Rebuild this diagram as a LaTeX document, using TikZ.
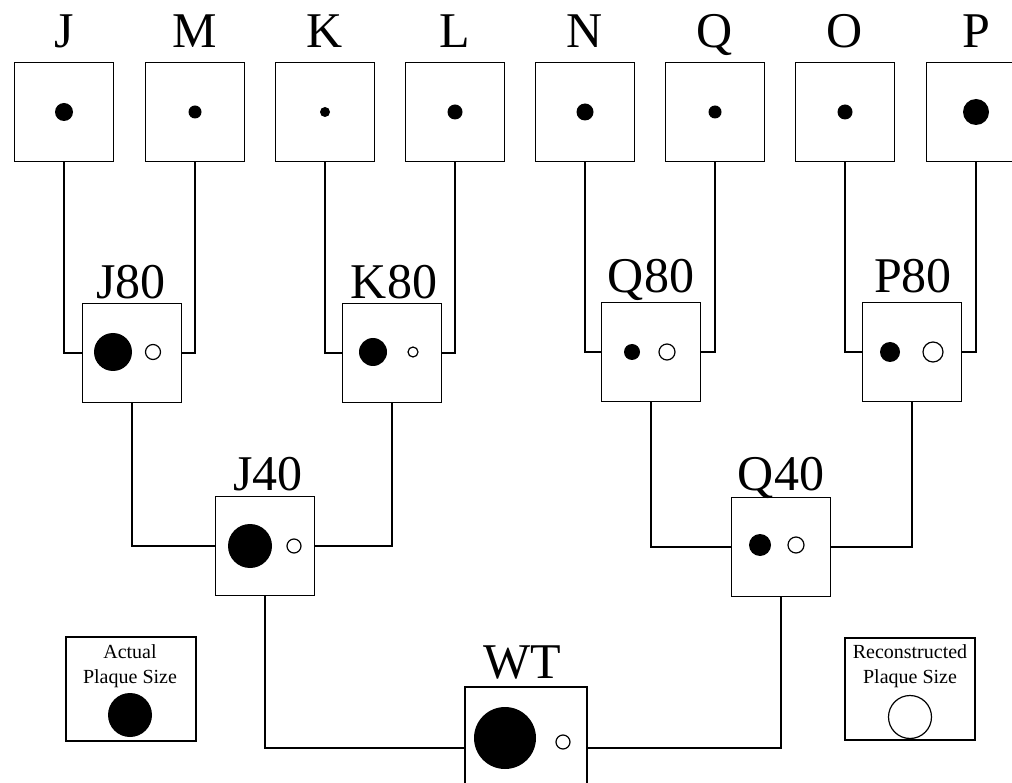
\documentclass[tikz,border=0pt]{standalone}
\usepackage{fontspec}
\setmainfont{Liberation Serif}
\begin{document}
\begin{tikzpicture}[x=1pt,y=-1pt,
  box/.style={draw, line width=1.5pt, minimum width=99pt, minimum height=99pt, inner sep=0pt},
  lab/.style={font=\fontsize{50}{55}\selectfont, anchor=base, inner sep=0pt},
  link/.style={line width=1.3pt},
  hole/.style={draw, line width=1.2pt, fill=white},
  legtxt/.style={font=\fontsize{20}{25}\selectfont, align=center, inner sep=0pt}]
\useasboundingbox (0,0) rectangle (1012,783);

% top row
\foreach \n/\x/\d in {J/64/18, M/195/13, K/325/10, L/455/15, N/585/17, Q/715/13, O/845/15, P/976/26} {
  \node[box] (\n) at (\x,112) {};
  \node[lab] (lab\n) at (\x,48) {\n};
  \fill (\x,112) circle[radius={\d*0.5pt}];
}

% second row
\node[box] (J80) at (132,353) {};
\node[lab] (labJ80) at (131,299) {J80};
\fill (113,352) circle[radius=19pt];
\draw[hole] (153,352) circle[radius=7.5pt];

\node[box] (K80) at (392,353) {};
\node[lab] (labK80) at (394,299) {K80};
\fill (373,352) circle[radius=14pt];
\draw[hole] (413,352) circle[radius=5pt];

\node[box] (Q80) at (651,352) {};
\node[lab] (labQ80) at (651,293) {Q80};
\fill (632,352) circle[radius=8pt];
\draw[hole] (667,352) circle[radius=8pt];

\node[box] (P80) at (912,352) {};
\node[lab] (labP80) at (913,293) {P80};
\fill (890,352) circle[radius=10pt];
\draw[hole] (933,352) circle[radius=10pt];

% third row
\node[box] (J40) at (265,546) {};
\node[lab] (labJ40) at (268,490) {J40};
\fill (250,546) circle[radius=22pt];
\draw[hole] (294,546) circle[radius=7pt];

\node[box] (Q40) at (781,547) {};
\node[lab] (labQ40) at (781,490) {Q40};
\fill (760,545) circle[radius=11pt];
\draw[hole] (796,545) circle[radius=8pt];

% root
\node[box, minimum width=122pt, minimum height=122pt] (WT) at (526,748) {};
\node[lab] (labWT) at (522,678) {WT};
\fill (505,738) circle[radius=31pt];
\draw[hole] (563,742) circle[radius=7pt];

% connectors
\draw[link] (J.south) |- (J80.west);
\draw[link] (M.south) |- (J80.east);
\draw[link] (K.south) |- (K80.west);
\draw[link] (L.south) |- (K80.east);
\draw[link] (N.south) |- (Q80.west);
\draw[link] (Q.south) |- (Q80.east);
\draw[link] (O.south) |- (P80.west);
\draw[link] (P.south) |- (P80.east);
\draw[link] (J80.south) |- (J40.west);
\draw[link] (K80.south) |- (J40.east);
\draw[link] (Q80.south) |- (Q40.west);
\draw[link] (P80.south) |- (Q40.east);
\draw[link] (J40.south) |- (WT.west);
\draw[link] (Q40.south) |- (WT.east);

% legends
\node[box, minimum width=130pt, minimum height=104pt] (act) at (131,689) {};
\node[legtxt] (acttxt) at (130,666) {Actual\\Plaque Size};
\fill (130,715) circle[radius=22pt];

\node[box, minimum width=130pt, minimum height=102pt] (rec) at (910,689) {};
\node[legtxt] (rectxt) at (910,666) {Reconstructed\\Plaque Size};
\draw[hole] (910,717) circle[radius=21.5pt];
\end{tikzpicture}
\end{document}
